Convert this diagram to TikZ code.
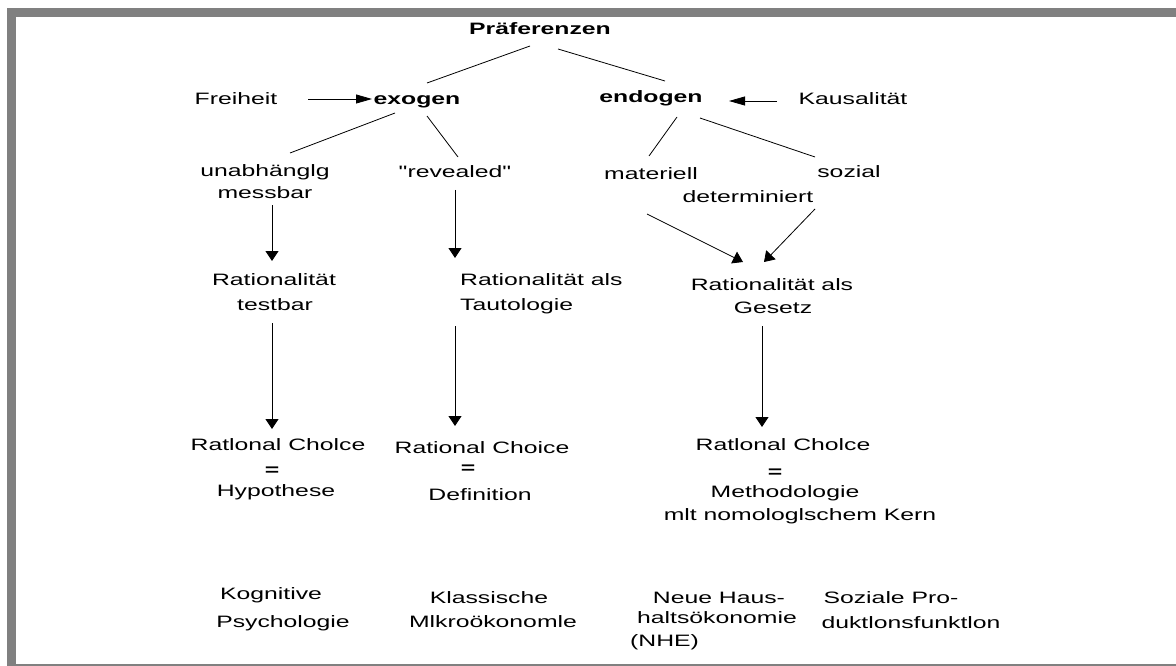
\documentclass[tikz,border=0pt]{standalone}
\usepackage{fontspec}
\setmainfont{Liberation Sans}[FakeStretch=1.5, Ligatures=TeXOff]
\usetikzlibrary{arrows.meta}
\begin{document}
\begin{tikzpicture}[x=1pt,y=-1pt,
  every node/.style={font=\fontsize{16.5pt}{22pt}\selectfont, inner sep=0pt, anchor=base},
  conn/.style={line width=0.8pt},
  varrow/.style={line width=0.8pt, -{Triangle[length=10pt,width=13pt]}},
  harrow/.style={line width=0.8pt, -{Triangle[length=16pt,width=9pt]}}]
\useasboundingbox (0,0) rectangle (1176,666);
\fill[white] (0,0) rectangle (1176,666);
% frame
\fill[gray] (7,8) rectangle (1176,17);
\fill[gray] (7,8) rectangle (16,666);
\fill[gray] (16,664) rectangle (1176,666);
% nodes
\node (pref) at (540,35) {\textbf{Präferenzen}};
\node (frei) at (236,105) {Freiheit};
\node (exo) at (417,105) {\textbf{exogen}};
\node (endo) at (651,103) {\textbf{endogen}};
\node (kaus) at (853,105) {Kausalität};
\node (unab1) at (265,177) {unabhänglg};
\node (unab2) at (265,198) {messbar};
\node (rev) at (455,178) {"revealed"};
\node (mat) at (651,180) {materiell};
\node (soz) at (849,178) {sozial};
\node (det) at (748,203) {determiniert};
\node (rt1) at (274,285) {Rationalität};
\node (rt2) at (275,310) {testbar};
\node[anchor=base west] (rta1) at (460,285) {Rationalität als};
\node[anchor=base west] (rta2) at (460,310) {Tautologie};
\node (rg1) at (772,290) {Rationalität als};
\node (rg2) at (773,313) {Gesetz};
\node (rc1a) at (278,450) {Ratlonal Cholce};
\node (eq1) at (272,475) {\textbf{=}};
\node (rc1b) at (276,496) {Hypothese};
\node (rc2a) at (482,453) {Rational Choice};
\node (eq2) at (468,473) {\textbf{=}};
\node (rc2b) at (480,500) {Definition};
\node (rc3a) at (783,450) {Ratlonal Cholce};
\node (eq3) at (775,477) {\textbf{=}};
\node (rc3b) at (785,497) {Methodologie};
\node (rc3c) at (800,520) {mlt nomologlschem Kern};
\node (kog1) at (271,599) {Kognitive};
\node (kog2) at (283,627) {Psychologie};
\node (kla1) at (489,603) {Klassische};
\node (kla2) at (493,627) {Mlkroökonomle};
\node (nhe1) at (719,603) {Neue Haus-};
\node (nhe2) at (717,623) {haltsökonomie};
\node[anchor=base west] (nhe3) at (630,646) {(NHE)};
\node (spf1) at (891,603) {Soziale Pro-};
\node (spf2) at (911,628) {duktlonsfunktlon};
% connectors
\draw[conn] ([shift={(-10,11)}]pref.base) -- ([shift={(10,-22)}]exo.base);
\draw[conn] ([shift={(18,14)}]pref.base) -- ([shift={(14,-22)}]endo.base);
\draw[harrow] ([shift={(72,-6)}]frei.base) -- ([shift={(-45,-6)}]exo.base);
\draw[harrow] ([shift={(-76,-4)}]kaus.base) -- ([shift={(78,-2)}]endo.base);
\draw[conn] ([shift={(-22,8)}]exo.base) -- ([shift={(25,-24)}]unab1.base);
\draw[conn] ([shift={(10,11)}]exo.base) -- ([shift={(3,-21)}]rev.base);
\draw[conn] ([shift={(26,14)}]endo.base) -- ([shift={(-2,-24)}]mat.base);
\draw[conn] ([shift={(49,15)}]endo.base) -- ([shift={(-34,-21)}]soz.base);
\draw[varrow] ([shift={(7,7)}]unab2.base) -- ([shift={(-2,-24)}]rt1.base);
\draw[varrow] ([shift={(0,12)}]rev.base) -- ([shift={(-5,-27)}]rta1.base west);
\draw[varrow] ([shift={(-4,34)}]mat.base) -- ([shift={(-29,-28)}]rg1.base);
\draw[varrow] ([shift={(67,6)}]det.base) -- ([shift={(-8,-28)}]rg1.base);
\draw[varrow] ([shift={(-3,13)}]rt2.base) -- ([shift={(-6,-21)}]rc1a.base);
\draw[varrow] ([shift={(-5,16)}]rta2.base west) -- ([shift={(-27,-27)}]rc2a.base);
\draw[varrow] ([shift={(-11,13)}]rg2.base) -- ([shift={(-21,-23)}]rc3a.base);
\end{tikzpicture}
\end{document}
